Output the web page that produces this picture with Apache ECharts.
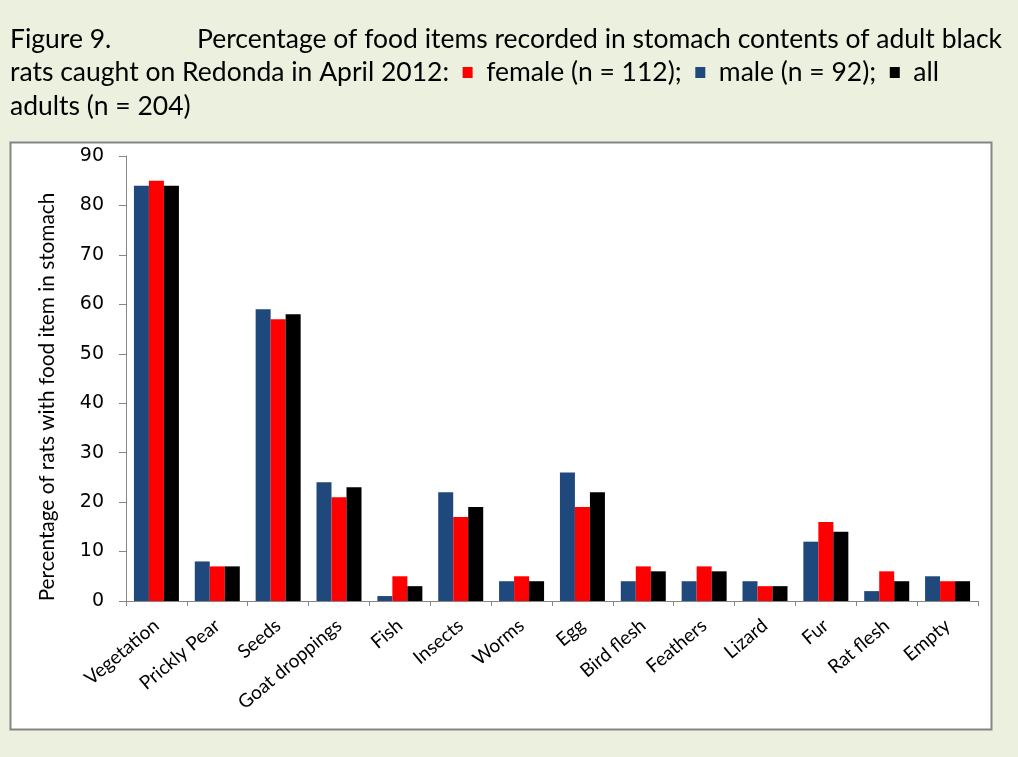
<!DOCTYPE html>
<html>
<head>
<meta charset="utf-8">
<style>
  html, body { margin: 0; padding: 0; background: #EBF1DE; }
  #chart { width: 1018px; height: 757px; }
</style>
<script src="https://cdn.jsdelivr.net/npm/echarts@6/dist/echarts.min.js"></script>
</head>
<body>
<div id="chart"></div>
<script>
// Food items found in stomachs of adult black rats, Redonda, April 2012
const categories = ['Vegetation', 'Prickly Pear', 'Seeds', 'Goat droppings', 'Fish', 'Insects', 'Worms',
  'Egg', 'Bird flesh', 'Feathers', 'Lizard', 'Fur', 'Rat flesh', 'Empty'];
const maleValues   = [84, 8, 59, 24, 1, 22, 4, 26, 4, 4, 4, 12, 2, 5];
const femaleValues = [85, 7, 57, 21, 5, 17, 5, 19, 7, 7, 3, 16, 6, 4];
const allValues    = [84, 7, 58, 23, 3, 19, 4, 22, 6, 6, 3, 14, 4, 4];
const yTicks = { min: 0, max: 90, interval: 10 };

const textFont = 'Lato';
const captionFont = '26.5px ' + textFont;
const chart = echarts.init(document.getElementById('chart'));

chart.setOption({
  backgroundColor: '#EBF1DE',
  animation: false,
  graphic: [
    // white chart panel
    { type: 'rect', z: -10, shape: { x: 10.5, y: 142.5, width: 981, height: 587 },
      style: { fill: '#FFFFFF', stroke: '#868686', lineWidth: 2 } },
    // caption
    { type: 'text', left: 10, top: 26,
      style: { text: 'Figure 9.', font: captionFont, fill: '#000' } },
    { type: 'text', left: 197, top: 26,
      style: { text: 'Percentage of food items recorded in stomach contents of adult black', font: captionFont, fill: '#000' } },
    { type: 'text', left: 10, top: 59,
      style: {
        text: 'rats caught on Redonda in April 2012:  {r|}  female (n = 112);  {b|}  male (n = 92);  {k|}  all',
        font: captionFont, fill: '#000',
        rich: {
          r: { width: 10, height: 11, backgroundColor: '#FF0000' },
          b: { width: 10, height: 11, backgroundColor: '#1F497D' },
          k: { width: 10, height: 11, backgroundColor: '#000000' }
        }
      } },
    { type: 'text', left: 10, top: 93,
      style: { text: 'adults (n = 204)', font: captionFont, fill: '#000' } },
    // y-axis title
    { type: 'text', x: 47, y: 397, rotation: Math.PI / 2,
      style: { text: 'Percentage of rats with food item in stomach', font: '20.8px ' + textFont, fill: '#000',
        align: 'center', verticalAlign: 'middle' } }
  ],
  grid: { left: 126, right: 40, top: 156, bottom: 156, containLabel: false },
  xAxis: {
    type: 'category',
    data: categories,
    axisLine: { lineStyle: { color: '#868686', width: 1 } },
    axisTick: { show: true, alignWithLabel: false, length: 5, lineStyle: { color: '#868686' } },
    axisLabel: { rotate: 40, interval: 0, margin: 22, fontFamily: textFont, fontSize: 19, color: '#000' }
  },
  yAxis: {
    type: 'value',
    min: yTicks.min, max: yTicks.max, interval: yTicks.interval,
    splitLine: { show: false },
    axisLine: { show: true, lineStyle: { color: '#868686', width: 1 } },
    axisTick: { show: true, length: 7, lineStyle: { color: '#868686' } },
    axisLabel: { fontFamily: 'DejaVu Sans', fontSize: 19, color: '#000', margin: 22 }
  },
  series: [
    { name: 'male (n = 92)', type: 'bar', data: maleValues, barWidth: 15, barGap: '0%',
      itemStyle: { color: '#1F497D' } },
    { name: 'female (n = 112)', type: 'bar', data: femaleValues, barWidth: 15, barGap: '0%',
      itemStyle: { color: '#FF0000' } },
    { name: 'all adults (n = 204)', type: 'bar', data: allValues, barWidth: 15, barGap: '0%',
      itemStyle: { color: '#000000' } }
  ]
});
</script>
</body>
</html>
